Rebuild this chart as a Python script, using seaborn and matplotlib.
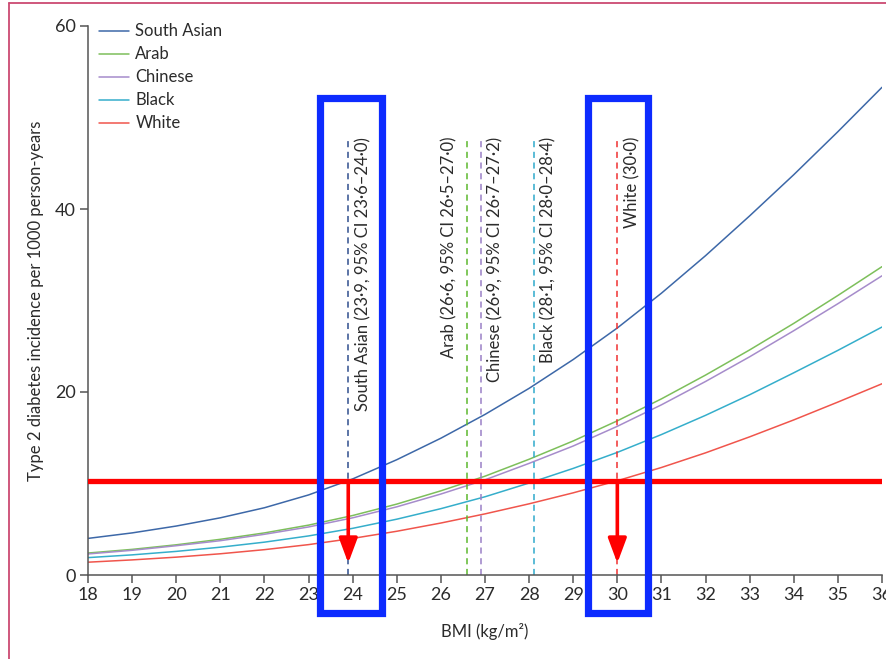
import matplotlib
matplotlib.use("Agg")
import matplotlib.pyplot as plt
from matplotlib.patches import Rectangle
from matplotlib.lines import Line2D
import seaborn as sns
import pandas as pd

# Werte
bmi = [18, 19, 20, 21, 22, 23, 24, 25, 26, 27, 28, 29, 30, 31, 32, 33, 34, 35, 36]
south_asian = [4.0, 4.6, 5.35, 6.25, 7.35, 8.75, 10.5, 12.6, 14.95, 17.55, 20.4, 23.55, 27.0,
               30.8, 34.9, 39.25, 43.75, 48.45, 53.3]
arab = [2.4, 2.8, 3.3, 3.9, 4.6, 5.45, 6.5, 7.75, 9.2, 10.8, 12.65, 14.65, 16.85,
        19.25, 21.85, 24.6, 27.5, 30.55, 33.7]
chinese = [2.3, 2.7, 3.2, 3.75, 4.45, 5.25, 6.25, 7.45, 8.85, 10.4, 12.2, 14.1, 16.25,
           18.6, 21.15, 23.85, 26.7, 29.65, 32.7]
black = [1.9, 2.2, 2.58, 3.04, 3.59, 4.27, 5.1, 6.1, 7.25, 8.55, 10.05, 11.65, 13.4,
         15.35, 17.45, 19.7, 22.1, 24.55, 27.1]
white = [1.4, 1.65, 1.95, 2.32, 2.77, 3.32, 4.0, 4.78, 5.68, 6.68, 7.78, 8.98, 10.3,
         11.75, 13.35, 15.1, 16.95, 18.9, 20.9]

groups = ["South Asian", "Arab", "Chinese", "Black", "White"]
cutoffs = [23.9, 26.6, 26.9, 28.1, 30.0]
cutoff_labels = [
    "South Asian (23·9, 95% CI 23·6–24·0)",
    "Arab (26·6, 95% CI 26·5–27·0)",
    "Chinese (26·9, 95% CI 26·7–27·2)",
    "Black (28·1, 95% CI 28·0–28·4)",
    "White (30·0)",
]
white_incidence_at_30 = 10.3

line_colors = {"South Asian": "#3d68a8", "Arab": "#7dbf5b", "Chinese": "#a68ccb",
               "Black": "#35aecb", "White": "#f0554c"}
dash_colors = ["#2f4e8e", "#5cb82e", "#9a80c6", "#2fa9cc", "#f03030"]

df = pd.DataFrame({
    "BMI": bmi * 5,
    "incidence": south_asian + arab + chinese + black + white,
    "group": [g for g in groups for _ in bmi],
})

sns.set_style("ticks")
plt.rcParams["font.family"] = ["Lato", "DejaVu Sans"]
plt.rcParams["text.color"] = "#2b2b2b"
plt.rcParams["axes.labelcolor"] = "#2b2b2b"
plt.rcParams["xtick.color"] = "#555555"
plt.rcParams["ytick.color"] = "#555555"
plt.rcParams["xtick.labelcolor"] = "#2b2b2b"
plt.rcParams["ytick.labelcolor"] = "#2b2b2b"

fig = plt.figure(figsize=(8.86, 6.59), dpi=100)
ax = fig.add_axes([88 / 886, 1 - 575 / 659, (882 - 88) / 886, (575 - 26) / 659])

sns.lineplot(data=df, x="BMI", y="incidence", hue="group", hue_order=groups,
             palette=line_colors, linewidth=1.1, ax=ax)

ax.set_xlim(18, 36)
ax.set_ylim(0, 60)
ax.set_xticks(range(18, 37))
ax.set_yticks([0, 20, 40, 60])
ax.tick_params(labelsize=13, length=6, width=1.1, pad=3)
for s in ["top", "right"]:
    ax.spines[s].set_visible(False)
for s in ["left", "bottom"]:
    ax.spines[s].set_color("#555555")
    ax.spines[s].set_linewidth(1.1)

ax.set_xlabel("BMI (kg/m²)", fontsize=12, labelpad=14)
ax.set_ylabel("Type 2 diabetes incidence per 1000 person-years", fontsize=12, labelpad=8)

sns.move_legend(ax, "upper left", bbox_to_anchor=(0.006, 1.017), title=None, frameon=False,
                fontsize=12, handlelength=1.8, handletextpad=0.35, labelspacing=0.42,
                borderaxespad=0)

# gestrichelte Grenzwerte
for x, lab, c in zip(cutoffs, cutoff_labels, dash_colors):
    ax.vlines(x, 0, 47.9, colors=c, linestyles=(0, (4, 3)), linewidth=1.1)
    if lab.startswith("Arab"):
        ax.annotate(lab, xy=(x, 47.9), xytext=(-7, 0), textcoords="offset points",
                    rotation=90, ha="right", va="top", fontsize=12)
    else:
        ax.annotate(lab, xy=(x, 47.9), xytext=(5, 0), textcoords="offset points",
                    rotation=90, ha="left", va="top", fontsize=12)

# Markierungen
ax.axhline(white_incidence_at_30, color="#ff0000", linewidth=3.8, zorder=5)
for x in [cutoffs[0], cutoffs[4]]:
    ax.annotate("", xy=(x, 1.3), xytext=(x, white_incidence_at_30),
                arrowprops=dict(arrowstyle="-|>,head_length=0.75,head_width=0.28",
                                mutation_scale=20, color="#ff0000", lw=2.6,
                                shrinkA=0, shrinkB=0), zorder=6)
for x0, x1 in [(23.27, 24.66), (29.33, 30.69)]:
    ax.add_patch(Rectangle((x0, -4.2), x1 - x0, 56.3, fill=False, edgecolor="#0d2bff",
                           linewidth=5.2, clip_on=False, zorder=7))

# Rahmen des Ausschnitts
fig.add_artist(Line2D([9 / 886, 9 / 886], [0, 1 - 3 / 659], color="#cc4a72", linewidth=1.3))
fig.add_artist(Line2D([9 / 886, 1], [1 - 3 / 659, 1 - 3 / 659], color="#cc4a72", linewidth=1.3))

fig.savefig("out.png", dpi=100)
